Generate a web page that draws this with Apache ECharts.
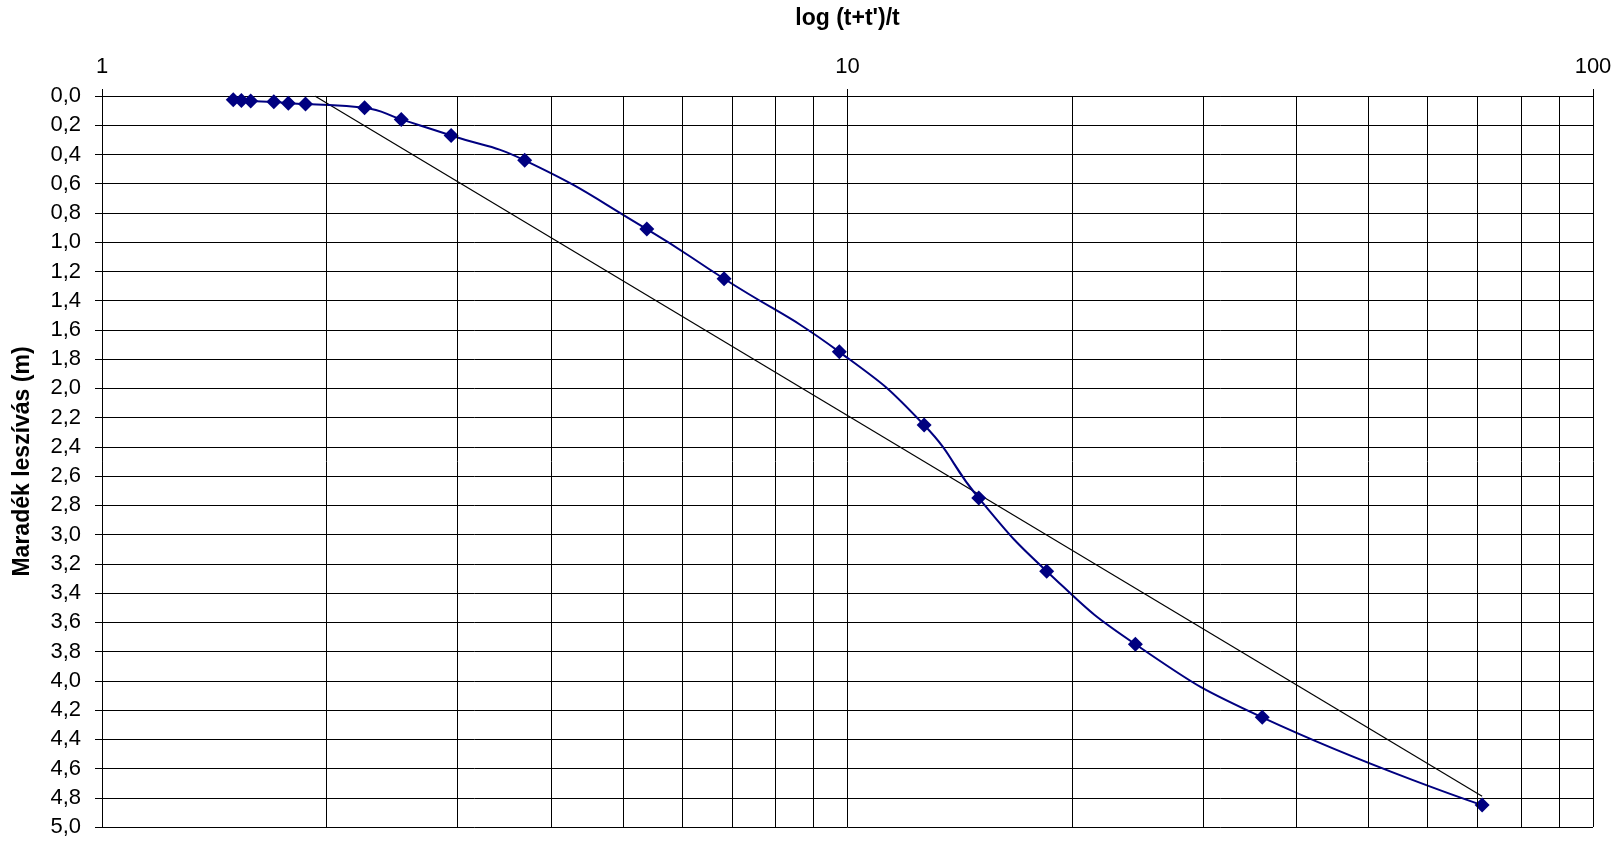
<!DOCTYPE html>
<html>
<head>
<meta charset="utf-8">
<script src="https://cdn.jsdelivr.net/npm/echarts@6/dist/echarts.min.js"></script>
<style>
  html, body { margin: 0; padding: 0; background: #fff; }
  #chart { width: 1620px; height: 841px; }
</style>
</head>
<body>
<div id="chart"></div>
<script>
// Recovery test: (t+t')/t ratio against residual drawdown
const ratio = [71, 36, 24.33, 18.5, 15, 12.67, 9.75, 6.83, 5.38, 3.69, 2.94, 2.52, 2.25, 1.875, 1.778, 1.7, 1.583, 1.538, 1.5];
const drawdown = [4.85, 4.25, 3.75, 3.25, 2.75, 2.25, 1.75, 1.25, 0.91, 0.44, 0.27, 0.16, 0.08, 0.055, 0.05, 0.04, 0.035, 0.03, 0.025];

// Fitted straight line on the semi-log plot
const fitX = [1.93, 71];
const fitY = [0, 4.79];

// Intermediate log grid lines
const minorGrid = [2, 3, 4, 5, 6, 7, 8, 9, 20, 30, 40, 50, 60, 70, 80, 90];

const FONT = 'Liberation Sans, Arial, sans-serif';

const chart = echarts.init(document.getElementById('chart'), null, { renderer: 'canvas' });

chart.setOption({
  animation: false,
  backgroundColor: '#ffffff',
  grid: { left: 102, right: 27, top: 96, bottom: 14, containLabel: false },
  xAxis: {
    type: 'log',
    logBase: 10,
    position: 'top',
    min: 1,
    max: 100,
    name: "log (t+t')/t",
    nameLocation: 'middle',
    nameGap: 66,
    nameTextStyle: { fontFamily: FONT, fontSize: 23, fontWeight: 'bold', color: '#000' },
    axisLine: { show: true, lineStyle: { color: '#000', width: 1 } },
    axisTick: { show: true, length: 7, lineStyle: { color: '#000' } },
    axisLabel: { fontFamily: FONT, fontSize: 22, color: '#000', margin: 18 },
    splitLine: { show: true, lineStyle: { color: '#000', width: 1 } },
    minorTick: { show: false },
    minorSplitLine: { show: false }
  },
  yAxis: {
    type: 'value',
    inverse: true,
    min: 0,
    max: 5,
    interval: 0.2,
    name: 'Maradék leszívás (m)',
    nameLocation: 'middle',
    nameGap: 68,
    nameRotate: 90,
    nameTextStyle: { fontFamily: FONT, fontSize: 23, fontWeight: 'bold', color: '#000' },
    axisLine: { show: true, lineStyle: { color: '#000', width: 1 } },
    axisTick: { show: true, length: 7, lineStyle: { color: '#000' } },
    axisLabel: {
      fontFamily: FONT, fontSize: 22, color: '#000', margin: 21,
      formatter: v => v.toFixed(1).replace('.', ',')
    },
    splitLine: { show: true, lineStyle: { color: '#000', width: 1 } }
  },
  series: [
    {
      name: 'grid',
      type: 'line',
      data: [],
      silent: true,
      markLine: {
        silent: true,
        symbol: ['none', 'none'],
        label: { show: false },
        lineStyle: { color: '#000', width: 1, type: 'solid' },
        data: minorGrid.map(v => ({ xAxis: v }))
      }
    },
    {
      name: 'fit',
      type: 'line',
      data: fitX.map((x, i) => [x, fitY[i]]),
      showSymbol: false,
      symbol: 'none',
      lineStyle: { color: '#000', width: 1.2 },
      z: 3
    },
    {
      name: 'measured',
      type: 'line',
      data: ratio.map((x, i) => [x, drawdown[i]]),
      smooth: 0.5,
      symbol: 'diamond',
      symbolSize: 15,
      itemStyle: { color: '#000080' },
      lineStyle: { color: '#000080', width: 2 },
      z: 4
    }
  ]
});
</script>
</body>
</html>
